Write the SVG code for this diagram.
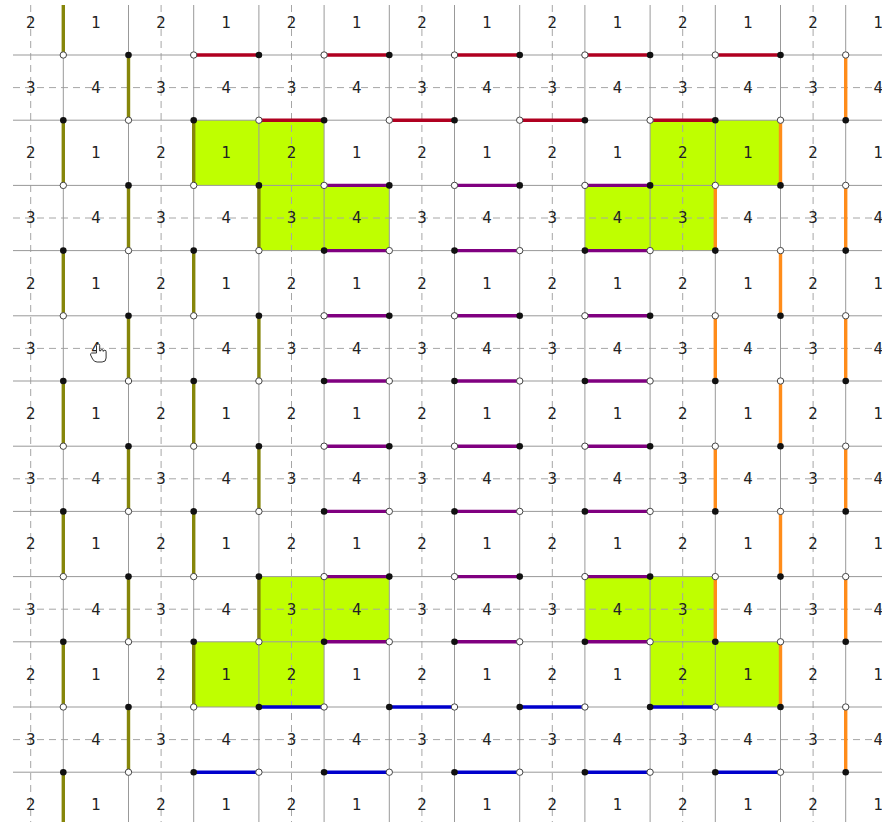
<svg xmlns="http://www.w3.org/2000/svg" width="882" height="825" viewBox="0 0 882 825">
<style>
.g{fill:#bfff00;stroke:none}
.sl{stroke:#999;stroke-width:1;fill:none}
.dl{stroke:#a6a6a6;stroke-width:1;fill:none;stroke-dasharray:7 5}
.t{font-family:"DejaVu Sans","Liberation Sans",sans-serif;font-size:15px;fill:#222;text-anchor:middle}
.ol{stroke:#86860a;stroke-width:3.4;fill:none}
.or{stroke:#ff8c1a;stroke-width:3.4;fill:none}
.rd{stroke:#b00020;stroke-width:3.4;fill:none}
.pu{stroke:#800080;stroke-width:3.4;fill:none}
.bl{stroke:#0000cc;stroke-width:3.4;fill:none}
.bk{fill:#111}
.wh{fill:#fff;stroke:#444;stroke-width:1}
</style>
<defs>
<circle id="b" r="3.3" class="bk"/>
<circle id="w" r="3.2" class="wh"/>
</defs>
<rect width="882" height="825" fill="#fff"/>
<g id="green-cells">
<rect class="g" x="193.7" y="120.2" width="65.2" height="65.2"/>
<rect class="g" x="258.9" y="120.2" width="65.2" height="65.2"/>
<rect class="g" x="258.9" y="185.4" width="65.2" height="65.2"/>
<rect class="g" x="324.1" y="185.4" width="65.2" height="65.2"/>
<rect class="g" x="584.9" y="185.4" width="65.2" height="65.2"/>
<rect class="g" x="650.1" y="185.4" width="65.2" height="65.2"/>
<rect class="g" x="650.1" y="120.2" width="65.2" height="65.2"/>
<rect class="g" x="715.3" y="120.2" width="65.2" height="65.2"/>
<rect class="g" x="258.9" y="576.6" width="65.2" height="65.2"/>
<rect class="g" x="324.1" y="576.6" width="65.2" height="65.2"/>
<rect class="g" x="193.7" y="641.8" width="65.2" height="65.2"/>
<rect class="g" x="258.9" y="641.8" width="65.2" height="65.2"/>
<rect class="g" x="584.9" y="576.6" width="65.2" height="65.2"/>
<rect class="g" x="650.1" y="576.6" width="65.2" height="65.2"/>
<rect class="g" x="650.1" y="641.8" width="65.2" height="65.2"/>
<rect class="g" x="715.3" y="641.8" width="65.2" height="65.2"/>
</g>
<g id="grid">
<path class="dl" d="M30.7 5V822M161.1 5V822M291.5 5V822M421.9 5V822M552.3 5V822M682.7 5V822M813.1 5V822M13 87.6H882M13 218H882M13 348.4H882M13 478.8H882M13 609.2H882M13 739.6H882"/>
<path class="sl" d="M63.3 5V822M128.5 5V822M193.7 5V822M258.9 5V822M324.1 5V822M389.3 5V822M454.5 5V822M519.7 5V822M584.9 5V822M650.1 5V822M715.3 5V822M780.5 5V822M845.7 5V822M13 55H882M13 120.2H882M13 185.4H882M13 250.6H882M13 315.8H882M13 381H882M13 446.2H882M13 511.4H882M13 576.6H882M13 641.8H882M13 707H882M13 772.2H882"/>
</g>
<g id="labels">
<g transform="translate(0,27.7)"><text class="t" x="30.7">2</text><text class="t" x="95.9">1</text><text class="t" x="161.1">2</text><text class="t" x="226.3">1</text><text class="t" x="291.5">2</text><text class="t" x="356.7">1</text><text class="t" x="421.9">2</text><text class="t" x="487.1">1</text><text class="t" x="552.3">2</text><text class="t" x="617.5">1</text><text class="t" x="682.7">2</text><text class="t" x="747.9">1</text><text class="t" x="813.1">2</text><text class="t" x="878.3">1</text></g>
<g transform="translate(0,92.9)"><text class="t" x="30.7">3</text><text class="t" x="95.9">4</text><text class="t" x="161.1">3</text><text class="t" x="226.3">4</text><text class="t" x="291.5">3</text><text class="t" x="356.7">4</text><text class="t" x="421.9">3</text><text class="t" x="487.1">4</text><text class="t" x="552.3">3</text><text class="t" x="617.5">4</text><text class="t" x="682.7">3</text><text class="t" x="747.9">4</text><text class="t" x="813.1">3</text><text class="t" x="878.3">4</text></g>
<g transform="translate(0,158.1)"><text class="t" x="30.7">2</text><text class="t" x="95.9">1</text><text class="t" x="161.1">2</text><text class="t" x="226.3">1</text><text class="t" x="291.5">2</text><text class="t" x="356.7">1</text><text class="t" x="421.9">2</text><text class="t" x="487.1">1</text><text class="t" x="552.3">2</text><text class="t" x="617.5">1</text><text class="t" x="682.7">2</text><text class="t" x="747.9">1</text><text class="t" x="813.1">2</text><text class="t" x="878.3">1</text></g>
<g transform="translate(0,223.3)"><text class="t" x="30.7">3</text><text class="t" x="95.9">4</text><text class="t" x="161.1">3</text><text class="t" x="226.3">4</text><text class="t" x="291.5">3</text><text class="t" x="356.7">4</text><text class="t" x="421.9">3</text><text class="t" x="487.1">4</text><text class="t" x="552.3">3</text><text class="t" x="617.5">4</text><text class="t" x="682.7">3</text><text class="t" x="747.9">4</text><text class="t" x="813.1">3</text><text class="t" x="878.3">4</text></g>
<g transform="translate(0,288.5)"><text class="t" x="30.7">2</text><text class="t" x="95.9">1</text><text class="t" x="161.1">2</text><text class="t" x="226.3">1</text><text class="t" x="291.5">2</text><text class="t" x="356.7">1</text><text class="t" x="421.9">2</text><text class="t" x="487.1">1</text><text class="t" x="552.3">2</text><text class="t" x="617.5">1</text><text class="t" x="682.7">2</text><text class="t" x="747.9">1</text><text class="t" x="813.1">2</text><text class="t" x="878.3">1</text></g>
<g transform="translate(0,353.7)"><text class="t" x="30.7">3</text><text class="t" x="95.9">4</text><text class="t" x="161.1">3</text><text class="t" x="226.3">4</text><text class="t" x="291.5">3</text><text class="t" x="356.7">4</text><text class="t" x="421.9">3</text><text class="t" x="487.1">4</text><text class="t" x="552.3">3</text><text class="t" x="617.5">4</text><text class="t" x="682.7">3</text><text class="t" x="747.9">4</text><text class="t" x="813.1">3</text><text class="t" x="878.3">4</text></g>
<g transform="translate(0,418.9)"><text class="t" x="30.7">2</text><text class="t" x="95.9">1</text><text class="t" x="161.1">2</text><text class="t" x="226.3">1</text><text class="t" x="291.5">2</text><text class="t" x="356.7">1</text><text class="t" x="421.9">2</text><text class="t" x="487.1">1</text><text class="t" x="552.3">2</text><text class="t" x="617.5">1</text><text class="t" x="682.7">2</text><text class="t" x="747.9">1</text><text class="t" x="813.1">2</text><text class="t" x="878.3">1</text></g>
<g transform="translate(0,484.1)"><text class="t" x="30.7">3</text><text class="t" x="95.9">4</text><text class="t" x="161.1">3</text><text class="t" x="226.3">4</text><text class="t" x="291.5">3</text><text class="t" x="356.7">4</text><text class="t" x="421.9">3</text><text class="t" x="487.1">4</text><text class="t" x="552.3">3</text><text class="t" x="617.5">4</text><text class="t" x="682.7">3</text><text class="t" x="747.9">4</text><text class="t" x="813.1">3</text><text class="t" x="878.3">4</text></g>
<g transform="translate(0,549.3)"><text class="t" x="30.7">2</text><text class="t" x="95.9">1</text><text class="t" x="161.1">2</text><text class="t" x="226.3">1</text><text class="t" x="291.5">2</text><text class="t" x="356.7">1</text><text class="t" x="421.9">2</text><text class="t" x="487.1">1</text><text class="t" x="552.3">2</text><text class="t" x="617.5">1</text><text class="t" x="682.7">2</text><text class="t" x="747.9">1</text><text class="t" x="813.1">2</text><text class="t" x="878.3">1</text></g>
<g transform="translate(0,614.5)"><text class="t" x="30.7">3</text><text class="t" x="95.9">4</text><text class="t" x="161.1">3</text><text class="t" x="226.3">4</text><text class="t" x="291.5">3</text><text class="t" x="356.7">4</text><text class="t" x="421.9">3</text><text class="t" x="487.1">4</text><text class="t" x="552.3">3</text><text class="t" x="617.5">4</text><text class="t" x="682.7">3</text><text class="t" x="747.9">4</text><text class="t" x="813.1">3</text><text class="t" x="878.3">4</text></g>
<g transform="translate(0,679.7)"><text class="t" x="30.7">2</text><text class="t" x="95.9">1</text><text class="t" x="161.1">2</text><text class="t" x="226.3">1</text><text class="t" x="291.5">2</text><text class="t" x="356.7">1</text><text class="t" x="421.9">2</text><text class="t" x="487.1">1</text><text class="t" x="552.3">2</text><text class="t" x="617.5">1</text><text class="t" x="682.7">2</text><text class="t" x="747.9">1</text><text class="t" x="813.1">2</text><text class="t" x="878.3">1</text></g>
<g transform="translate(0,744.9)"><text class="t" x="30.7">3</text><text class="t" x="95.9">4</text><text class="t" x="161.1">3</text><text class="t" x="226.3">4</text><text class="t" x="291.5">3</text><text class="t" x="356.7">4</text><text class="t" x="421.9">3</text><text class="t" x="487.1">4</text><text class="t" x="552.3">3</text><text class="t" x="617.5">4</text><text class="t" x="682.7">3</text><text class="t" x="747.9">4</text><text class="t" x="813.1">3</text><text class="t" x="878.3">4</text></g>
<g transform="translate(0,810.1)"><text class="t" x="30.7">2</text><text class="t" x="95.9">1</text><text class="t" x="161.1">2</text><text class="t" x="226.3">1</text><text class="t" x="291.5">2</text><text class="t" x="356.7">1</text><text class="t" x="421.9">2</text><text class="t" x="487.1">1</text><text class="t" x="552.3">2</text><text class="t" x="617.5">1</text><text class="t" x="682.7">2</text><text class="t" x="747.9">1</text><text class="t" x="813.1">2</text><text class="t" x="878.3">1</text></g>
</g>
<g id="connectors">
<path class="ol" d="M63.3 5V55M63.3 120.2V185.4M63.3 250.6V315.8M63.3 381V446.2M63.3 511.4V576.6M63.3 641.8V707M63.3 772.2V822M128.5 55V120.2M128.5 185.4V250.6M128.5 315.8V381M128.5 446.2V511.4M128.5 576.6V641.8M128.5 707V772.2M193.7 120.2V185.4M193.7 250.6V315.8M193.7 381V446.2M193.7 511.4V576.6M193.7 641.8V707M258.9 185.4V250.6M258.9 315.8V381M258.9 446.2V511.4M258.9 576.6V641.8"/>
<path class="or" d="M715.3 185.4V250.6M715.3 315.8V381M715.3 446.2V511.4M715.3 576.6V641.8M780.5 120.2V185.4M780.5 250.6V315.8M780.5 381V446.2M780.5 511.4V576.6M780.5 641.8V707M845.7 55V120.2M845.7 185.4V250.6M845.7 315.8V381M845.7 446.2V511.4M845.7 576.6V641.8M845.7 707V772.2"/>
<path class="rd" d="M193.7 55H258.9M324.1 55H389.3M454.5 55H519.7M584.9 55H650.1M715.3 55H780.5M258.9 120.2H324.1M389.3 120.2H454.5M519.7 120.2H584.9M650.1 120.2H715.3"/>
<path class="pu" d="M324.1 185.4H389.3M454.5 185.4H519.7M584.9 185.4H650.1M324.1 250.6H389.3M454.5 250.6H519.7M584.9 250.6H650.1M324.1 315.8H389.3M454.5 315.8H519.7M584.9 315.8H650.1M324.1 381H389.3M454.5 381H519.7M584.9 381H650.1M324.1 446.2H389.3M454.5 446.2H519.7M584.9 446.2H650.1M324.1 511.4H389.3M454.5 511.4H519.7M584.9 511.4H650.1M324.1 576.6H389.3M454.5 576.6H519.7M584.9 576.6H650.1M324.1 641.8H389.3M454.5 641.8H519.7M584.9 641.8H650.1"/>
<path class="bl" d="M258.9 707H324.1M389.3 707H454.5M519.7 707H584.9M650.1 707H715.3M193.7 772.2H258.9M324.1 772.2H389.3M454.5 772.2H519.7M584.9 772.2H650.1M715.3 772.2H780.5"/>
</g>
<g id="points">
<use href="#b" x="63.3" y="120.2"/><use href="#b" x="63.3" y="250.6"/><use href="#b" x="63.3" y="381"/><use href="#b" x="63.3" y="511.4"/><use href="#b" x="63.3" y="641.8"/><use href="#b" x="63.3" y="772.2"/>
<use href="#b" x="128.5" y="55"/><use href="#b" x="128.5" y="185.4"/><use href="#b" x="128.5" y="315.8"/><use href="#b" x="128.5" y="446.2"/><use href="#b" x="128.5" y="576.6"/><use href="#b" x="128.5" y="707"/>
<use href="#b" x="193.7" y="120.2"/><use href="#b" x="193.7" y="250.6"/><use href="#b" x="193.7" y="381"/><use href="#b" x="193.7" y="511.4"/><use href="#b" x="193.7" y="641.8"/>
<use href="#b" x="258.9" y="185.4"/><use href="#b" x="258.9" y="315.8"/><use href="#b" x="258.9" y="446.2"/><use href="#b" x="258.9" y="576.6"/>
<use href="#w" x="63.3" y="55"/><use href="#w" x="63.3" y="185.4"/><use href="#w" x="63.3" y="315.8"/><use href="#w" x="63.3" y="446.2"/><use href="#w" x="63.3" y="576.6"/><use href="#w" x="63.3" y="707"/>
<use href="#w" x="128.5" y="120.2"/><use href="#w" x="128.5" y="250.6"/><use href="#w" x="128.5" y="381"/><use href="#w" x="128.5" y="511.4"/><use href="#w" x="128.5" y="641.8"/><use href="#w" x="128.5" y="772.2"/>
<use href="#w" x="193.7" y="185.4"/><use href="#w" x="193.7" y="315.8"/><use href="#w" x="193.7" y="446.2"/><use href="#w" x="193.7" y="576.6"/><use href="#w" x="193.7" y="707"/>
<use href="#w" x="258.9" y="250.6"/><use href="#w" x="258.9" y="381"/><use href="#w" x="258.9" y="511.4"/><use href="#w" x="258.9" y="641.8"/>
<use href="#w" x="715.3" y="185.4"/><use href="#w" x="715.3" y="315.8"/><use href="#w" x="715.3" y="446.2"/><use href="#w" x="715.3" y="576.6"/>
<use href="#w" x="780.5" y="120.2"/><use href="#w" x="780.5" y="250.6"/><use href="#w" x="780.5" y="381"/><use href="#w" x="780.5" y="511.4"/><use href="#w" x="780.5" y="641.8"/>
<use href="#w" x="845.7" y="55"/><use href="#w" x="845.7" y="185.4"/><use href="#w" x="845.7" y="315.8"/><use href="#w" x="845.7" y="446.2"/><use href="#w" x="845.7" y="576.6"/><use href="#w" x="845.7" y="707"/>
<use href="#b" x="715.3" y="250.6"/><use href="#b" x="715.3" y="381"/><use href="#b" x="715.3" y="511.4"/><use href="#b" x="715.3" y="641.8"/>
<use href="#b" x="780.5" y="185.4"/><use href="#b" x="780.5" y="315.8"/><use href="#b" x="780.5" y="446.2"/><use href="#b" x="780.5" y="576.6"/><use href="#b" x="780.5" y="707"/>
<use href="#b" x="845.7" y="120.2"/><use href="#b" x="845.7" y="250.6"/><use href="#b" x="845.7" y="381"/><use href="#b" x="845.7" y="511.4"/><use href="#b" x="845.7" y="641.8"/><use href="#b" x="845.7" y="772.2"/>
<use href="#w" x="193.7" y="55"/><use href="#w" x="324.1" y="55"/><use href="#w" x="454.5" y="55"/><use href="#w" x="584.9" y="55"/><use href="#w" x="715.3" y="55"/>
<use href="#b" x="258.9" y="55"/><use href="#b" x="389.3" y="55"/><use href="#b" x="519.7" y="55"/><use href="#b" x="650.1" y="55"/><use href="#b" x="780.5" y="55"/>
<use href="#w" x="258.9" y="120.2"/><use href="#w" x="389.3" y="120.2"/><use href="#w" x="519.7" y="120.2"/><use href="#w" x="650.1" y="120.2"/>
<use href="#b" x="324.1" y="120.2"/><use href="#b" x="454.5" y="120.2"/><use href="#b" x="584.9" y="120.2"/><use href="#b" x="715.3" y="120.2"/>
<use href="#w" x="324.1" y="185.4"/><use href="#w" x="454.5" y="185.4"/><use href="#w" x="584.9" y="185.4"/><use href="#b" x="389.3" y="185.4"/><use href="#b" x="519.7" y="185.4"/><use href="#b" x="650.1" y="185.4"/>
<use href="#b" x="324.1" y="250.6"/><use href="#b" x="454.5" y="250.6"/><use href="#b" x="584.9" y="250.6"/><use href="#w" x="389.3" y="250.6"/><use href="#w" x="519.7" y="250.6"/><use href="#w" x="650.1" y="250.6"/>
<use href="#w" x="324.1" y="315.8"/><use href="#w" x="454.5" y="315.8"/><use href="#w" x="584.9" y="315.8"/><use href="#b" x="389.3" y="315.8"/><use href="#b" x="519.7" y="315.8"/><use href="#b" x="650.1" y="315.8"/>
<use href="#b" x="324.1" y="381"/><use href="#b" x="454.5" y="381"/><use href="#b" x="584.9" y="381"/><use href="#w" x="389.3" y="381"/><use href="#w" x="519.7" y="381"/><use href="#w" x="650.1" y="381"/>
<use href="#w" x="324.1" y="446.2"/><use href="#w" x="454.5" y="446.2"/><use href="#w" x="584.9" y="446.2"/><use href="#b" x="389.3" y="446.2"/><use href="#b" x="519.7" y="446.2"/><use href="#b" x="650.1" y="446.2"/>
<use href="#b" x="324.1" y="511.4"/><use href="#b" x="454.5" y="511.4"/><use href="#b" x="584.9" y="511.4"/><use href="#w" x="389.3" y="511.4"/><use href="#w" x="519.7" y="511.4"/><use href="#w" x="650.1" y="511.4"/>
<use href="#w" x="324.1" y="576.6"/><use href="#w" x="454.5" y="576.6"/><use href="#w" x="584.9" y="576.6"/><use href="#b" x="389.3" y="576.6"/><use href="#b" x="519.7" y="576.6"/><use href="#b" x="650.1" y="576.6"/>
<use href="#b" x="324.1" y="641.8"/><use href="#b" x="454.5" y="641.8"/><use href="#b" x="584.9" y="641.8"/><use href="#w" x="389.3" y="641.8"/><use href="#w" x="519.7" y="641.8"/><use href="#w" x="650.1" y="641.8"/>
<use href="#b" x="258.9" y="707"/><use href="#b" x="389.3" y="707"/><use href="#b" x="519.7" y="707"/><use href="#b" x="650.1" y="707"/>
<use href="#w" x="324.1" y="707"/><use href="#w" x="454.5" y="707"/><use href="#w" x="584.9" y="707"/><use href="#w" x="715.3" y="707"/>
<use href="#b" x="193.7" y="772.2"/><use href="#b" x="324.1" y="772.2"/><use href="#b" x="454.5" y="772.2"/><use href="#b" x="584.9" y="772.2"/><use href="#b" x="715.3" y="772.2"/>
<use href="#w" x="258.9" y="772.2"/><use href="#w" x="389.3" y="772.2"/><use href="#w" x="519.7" y="772.2"/><use href="#w" x="650.1" y="772.2"/><use href="#w" x="780.5" y="772.2"/>
</g>
<g id="cursor">
<path d="M96.5 353V345.5a1.6 1.6 0 0 1 3.2 0V351h0.8a1.4 1.4 0 0 1 2.8 0v0.4a1.4 1.4 0 0 1 2.8 0.4V358q0 4-4 4h-5q-3 0-4.5-3l-2-4q-0.5-1.5 1-2z" fill="#fff" stroke="#333" stroke-width="1"/>
</g>
</svg>
